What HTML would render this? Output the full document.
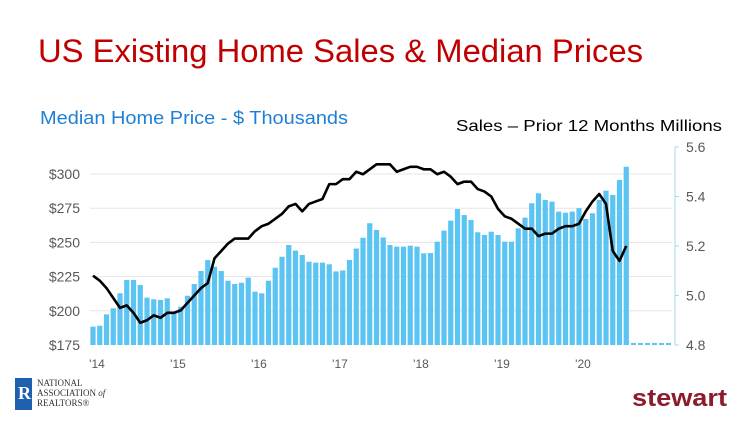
<!DOCTYPE html>
<html><head><meta charset="utf-8"><style>
body{margin:0;background:#fff;width:750px;height:422px;overflow:hidden;font-family:"Liberation Sans",sans-serif}
svg{display:block}
</style></head><body>
<svg id="chart" width="750" height="422" xmlns="http://www.w3.org/2000/svg">
<text x="38" y="62" font-size="32" fill="#c00000" textLength="605" lengthAdjust="spacingAndGlyphs">US Existing Home Sales &amp; Median Prices</text>
<text x="40" y="124" font-size="18" fill="#1f7fd6" textLength="308" lengthAdjust="spacingAndGlyphs">Median Home Price - $ Thousands</text>
<text x="456" y="131" font-size="16" fill="#000" textLength="266" lengthAdjust="spacingAndGlyphs">Sales – Prior 12 Months Millions</text>
<g id="grid"></g><g id="bars"></g><g id="axes"></g><g id="line"></g>
<g>
<rect x="15" y="378" width="17" height="32" fill="#1f5fb0"/>
<text x="18" y="399" font-size="18" font-weight="bold" fill="#fff" font-family="Liberation Serif,serif">R</text>
<text x="37" y="386" font-size="9" fill="#333" font-family="Liberation Serif,serif">NATIONAL</text>
<text x="37" y="396" font-size="9" fill="#333" font-family="Liberation Serif,serif">ASSOCIATION <tspan font-style="italic">of</tspan></text>
<text x="37" y="406" font-size="9" fill="#333" font-family="Liberation Serif,serif">REALTORS®</text>
</g>
<text x="632" y="406" font-size="24" font-weight="bold" fill="#8b1c2c" textLength="95" lengthAdjust="spacingAndGlyphs">stewart</text>
</svg>
<script>
const years=["'14","'15","'16","'17","'18","'19","'20"];
const leftTicks=[175,200,225,250,275,300];
const rightTicks=[4.8,5.0,5.2,5.4,5.6];
const prices=[188.4,189.1,197.4,201.8,212.8,222.5,222.5,218.9,209.6,208.4,207.9,209.1,199.4,203,211,219.6,229.1,237.1,232.2,229.1,222,219.6,220.5,224.2,214,212.8,222,231.5,239.5,248.1,244,240.8,235.9,235.2,235.2,234,228.8,229.5,237.1,245.5,253.4,264,259.1,253.6,248.1,246.9,246.9,247.6,246.9,242,242.2,250.5,258.6,265.9,274.4,270,266.4,257.4,255.4,257.8,255.4,250.5,250.5,260.3,268.1,278.6,285.9,281,279.8,272.5,271.7,272.5,275,267.1,271.3,281,287.8,284.7,295.6,305.3];
const sales=[5.08,5.06,5.03,4.99,4.95,4.96,4.93,4.89,4.90,4.92,4.91,4.93,4.93,4.94,4.97,5.00,5.03,5.05,5.15,5.18,5.21,5.23,5.23,5.23,5.26,5.28,5.29,5.31,5.33,5.36,5.37,5.34,5.37,5.38,5.39,5.45,5.45,5.47,5.47,5.50,5.49,5.51,5.53,5.53,5.53,5.50,5.51,5.52,5.52,5.51,5.51,5.49,5.50,5.48,5.45,5.46,5.46,5.43,5.42,5.40,5.35,5.32,5.31,5.29,5.27,5.27,5.24,5.25,5.25,5.27,5.28,5.28,5.29,5.34,5.38,5.41,5.37,5.18,5.14,5.20];
const NS="http://www.w3.org/2000/svg";
const x0=93,step=6.75,plotR=672,axisX=675;
const xPos=i=>x0+i*step;
const yL=v=>345-(v-175)/25*34.2;
const yR=v=>345-(v-4.8)/0.8*198;
function mk(tag,attrs,parent){const e=document.createElementNS(NS,tag);for(const k in attrs)e.setAttribute(k,attrs[k]);document.getElementById(parent).appendChild(e);return e;}
leftTicks.forEach(t=>{
  if(t>175){const g=mk('line',{x1:90,x2:plotR,y1:yL(t),y2:yL(t),stroke:'#e6e6e6','stroke-width':1},'grid');
  
  }
  const l=mk('text',{x:80,y:yL(t)+5,'font-size':14,fill:'#595959','text-anchor':'end'},'axes');
  l.textContent='$'+t;
  
  
});
const ax=mk('line',{x1:axisX,x2:axisX,y1:yR(5.6),y2:yR(4.8),stroke:'#9fd8ef','stroke-width':1},'axes');


rightTicks.forEach(t=>{
  const tk=mk('line',{x1:axisX,x2:axisX+4,y1:yR(t),y2:yR(t),stroke:'#9fd8ef'},'axes');
  
  
  const l=mk('text',{x:686,y:yR(t)+5,'font-size':14,fill:'#595959'},'axes');
  l.textContent=t.toFixed(1);
  
  
});
years.forEach((yv,i)=>{
  const l=mk('text',{x:xPos(i*12)+4,y:368,'font-size':12,fill:'#595959','text-anchor':'middle'},'axes');
  l.textContent=yv;
  
  
});
prices.forEach((v,i)=>{
  const b=mk('rect',{x:xPos(i)-2.6,y:yL(v),width:5.2,height:345-yL(v),fill:'#5bc4f2'},'bars');
  
  
});
const st=mk('line',{x1:xPos(prices.length)-2,x2:plotR,y1:344,y2:344,stroke:'#5bc4f2','stroke-width':2,'stroke-dasharray':'5,2'},'bars');


const p=mk('polyline',{points:sales.map((v,i)=>xPos(i)+','+yR(v)).join(' '),fill:'none',stroke:'#000','stroke-width':2.6,'stroke-linejoin':'round'},'line');


</script>
</body></html>
